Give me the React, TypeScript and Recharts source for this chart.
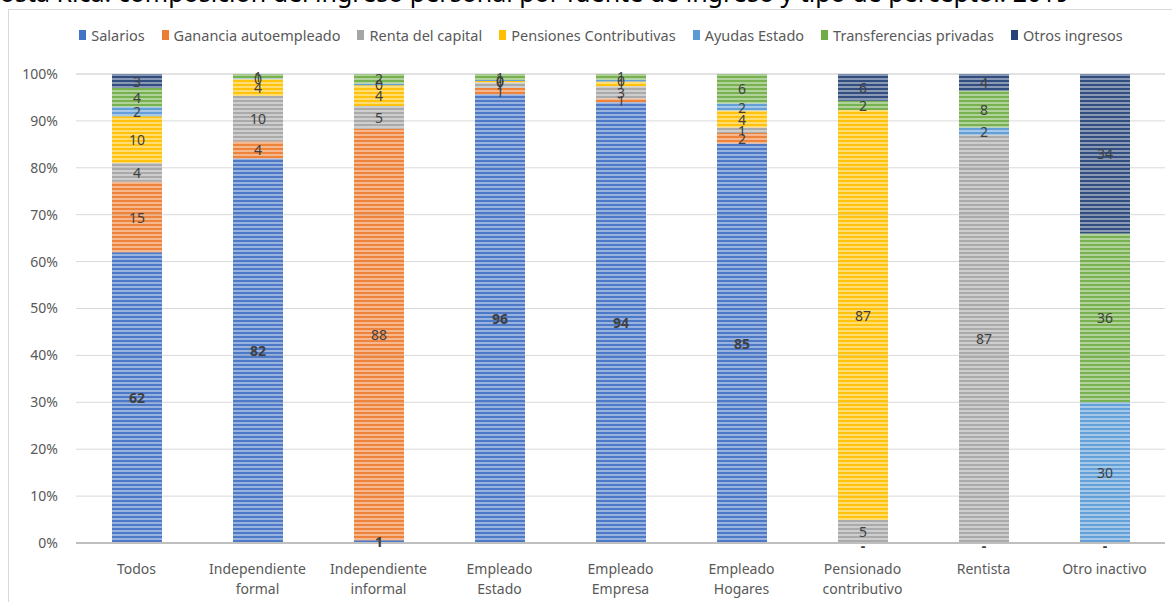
import { BarChart, Bar, XAxis, YAxis, CartesianGrid, LabelList, Legend } from "recharts";

const W = 1172;
const H = 602;

// Income composition (%) by type of earner
const categories = [
  "Todos",
  "Independiente\nformal",
  "Independiente\ninformal",
  "Empleado\nEstado",
  "Empleado\nEmpresa",
  "Empleado\nHogares",
  "Pensionado\ncontributivo",
  "Rentista",
  "Otro inactivo",
];

// null = no segment / no label; 0 = shown as "-"
const salarios = [62, 82.0, 0.6, 95.7, 94.0, 85.2, 0, 0, 0];
const ganancia = [15, 3.6, 87.7, 1.3, 0.8, 2.2, null, null, null];
const renta = [4, 9.7, 4.9, 1.2, 2.6, 1.2, 4.9, 87.0, null];
const pensiones = [10, 3.6, 4.4, 0.3, 1.0, 3.6, 87.4, null, null];
const ayudas = [2, 0.2, 0.3, 0.2, 0.4, 1.5, null, 1.6, 30];
const transferencias = [4, 0.9, 2.1, 1.3, 1.2, 6.3, 2.0, 7.8, 36];
const otros = [3, null, null, null, null, 0, 5.7, 3.6, 34];

const yTicks = [0, 10, 20, 30, 40, 50, 60, 70, 80, 90, 100];

const SERIES = [
  { key: "sal", name: "Salarios", color: "#4472C4", values: salarios, bold: true },
  { key: "gan", name: "Ganancia autoempleado", color: "#ED7D31", values: ganancia },
  { key: "ren", name: "Renta del capital", color: "#A5A5A5", values: renta },
  { key: "pen", name: "Pensiones Contributivas", color: "#FFC000", values: pensiones },
  { key: "ayu", name: "Ayudas Estado", color: "#5B9BD5", values: ayudas },
  { key: "tra", name: "Transferencias privadas", color: "#70AD47", values: transferencias },
  { key: "otr", name: "Otros ingresos", color: "#264478", values: otros },
];

const rows = categories.map((cat, i) => {
  const row: Record<string, any> = { cat };
  for (const s of SERIES) row[s.key] = s.values[i];
  return row;
});

const FONT = '"Noto Sans", sans-serif';

function makeLabel(bold?: boolean) {
  return (props: any) => {
    const { x, y, width, height, value } = props;
    if (value === null || value === undefined) return null;
    const zero = value === 0;
    const text = zero ? "-" : String(Math.round(value));
    return (
      <text
        x={x + width / 2}
        y={y + height / 2 + (zero ? 3 : 0)}
        textAnchor="middle"
        dominantBaseline="central"
        fontSize={14}
        fontFamily={FONT}
        fontWeight={bold ? 700 : 400}
        fill="#404040"
      >
        {text}
      </text>
    );
  };
}

function CategoryTick({ x, y, payload }: any) {
  const lines = String(payload.value).split("\n");
  return (
    <text x={x} y={y} textAnchor="middle" fontSize={14} fontFamily={FONT} fill="#595959">
      {lines.map((l, i) => (
        <tspan key={i} x={x} dy={i === 0 ? 29 : 20}>
          {l}
        </tspan>
      ))}
    </text>
  );
}

function LegendContent() {
  return (
    <div
      style={{
        display: "flex",
        justifyContent: "center",
        gap: 17,
        fontSize: 14.5,
        fontFamily: FONT,
        color: "#595959",
        whiteSpace: "nowrap",
      }}
    >
      {SERIES.map((s) => (
        <span key={s.key} style={{ display: "flex", alignItems: "center", gap: 5 }}>
          <span style={{ width: 7, height: 10, background: s.color, display: "inline-block" }} />
          {s.name}
        </span>
      ))}
    </div>
  );
}

export default function App() {
  return (
    <div
      style={{
        position: "absolute",
        left: 0,
        top: 0,
        width: W,
        height: H,
        overflow: "hidden",
        background: "#fff",
        fontFamily: FONT,
      }}
    >
      {/* striped fills shared by the bars */}
      <svg width={0} height={0} style={{ position: "absolute" }}>
        <defs>
          {SERIES.map((s) => (
            <pattern key={s.key} id={`stripe-${s.key}`} patternUnits="userSpaceOnUse" width={4} height={4}>
              <rect x={0} y={0} width={4} height={2} fill={s.color} fillOpacity={0.95} />
              <rect x={0} y={2} width={4} height={2} fill={s.color} fillOpacity={0.55} />
            </pattern>
          ))}
        </defs>
      </svg>

      <div
        style={{
          position: "absolute",
          left: -16,
          top: -20,
          fontSize: 25,
          lineHeight: "25px",
          color: "#000",
          whiteSpace: "nowrap",
        }}
      >
        Costa Rica: composición del ingreso personal por fuente de ingreso y tipo de perceptor. 2019
      </div>

      <div
        style={{
          position: "absolute",
          left: 8,
          top: 9,
          width: 1300,
          height: 800,
          border: "1px solid #D9D9D9",
        }}
      />

      <div style={{ position: "absolute", left: 0, top: 0 }}>
        <BarChart
          width={W}
          height={H}
          data={rows}
          margin={{ top: 74, right: 7, bottom: 0, left: 16 }}
          barSize={50}
        >
          <CartesianGrid vertical={false} stroke="#D9D9D9" />
          <XAxis
            dataKey="cat"
            height={59}
            interval={0}
            tickLine={false}
            tickSize={0}
            axisLine={{ stroke: "#BFBFBF", strokeWidth: 2 }}
            tick={<CategoryTick />}
          />
          <YAxis
            width={60}
            domain={[0, 100]}
            ticks={yTicks}
            tickFormatter={(v) => `${v}%`}
            axisLine={false}
            tickLine={false}
            tickSize={0}
            tickMargin={18}
            tick={{ fill: "#595959", fontSize: 14, fontFamily: FONT }}
          />
          <Legend
            verticalAlign="middle"
            align="center"
            layout="horizontal"
            wrapperStyle={{ top: 25, left: 15, width: W }}
            content={<LegendContent />}
          />
          {SERIES.map((s) => (
            <Bar
              key={s.key}
              dataKey={s.key}
              name={s.name}
              stackId="a"
              fill={`url(#stripe-${s.key})`}
              minPointSize={(v: number) => (v === 0 ? 0.01 : 0)}
              isAnimationActive={false}
            >
              <LabelList dataKey={s.key} content={makeLabel(s.bold)} />
            </Bar>
          ))}
        </BarChart>
      </div>
    </div>
  );
}
